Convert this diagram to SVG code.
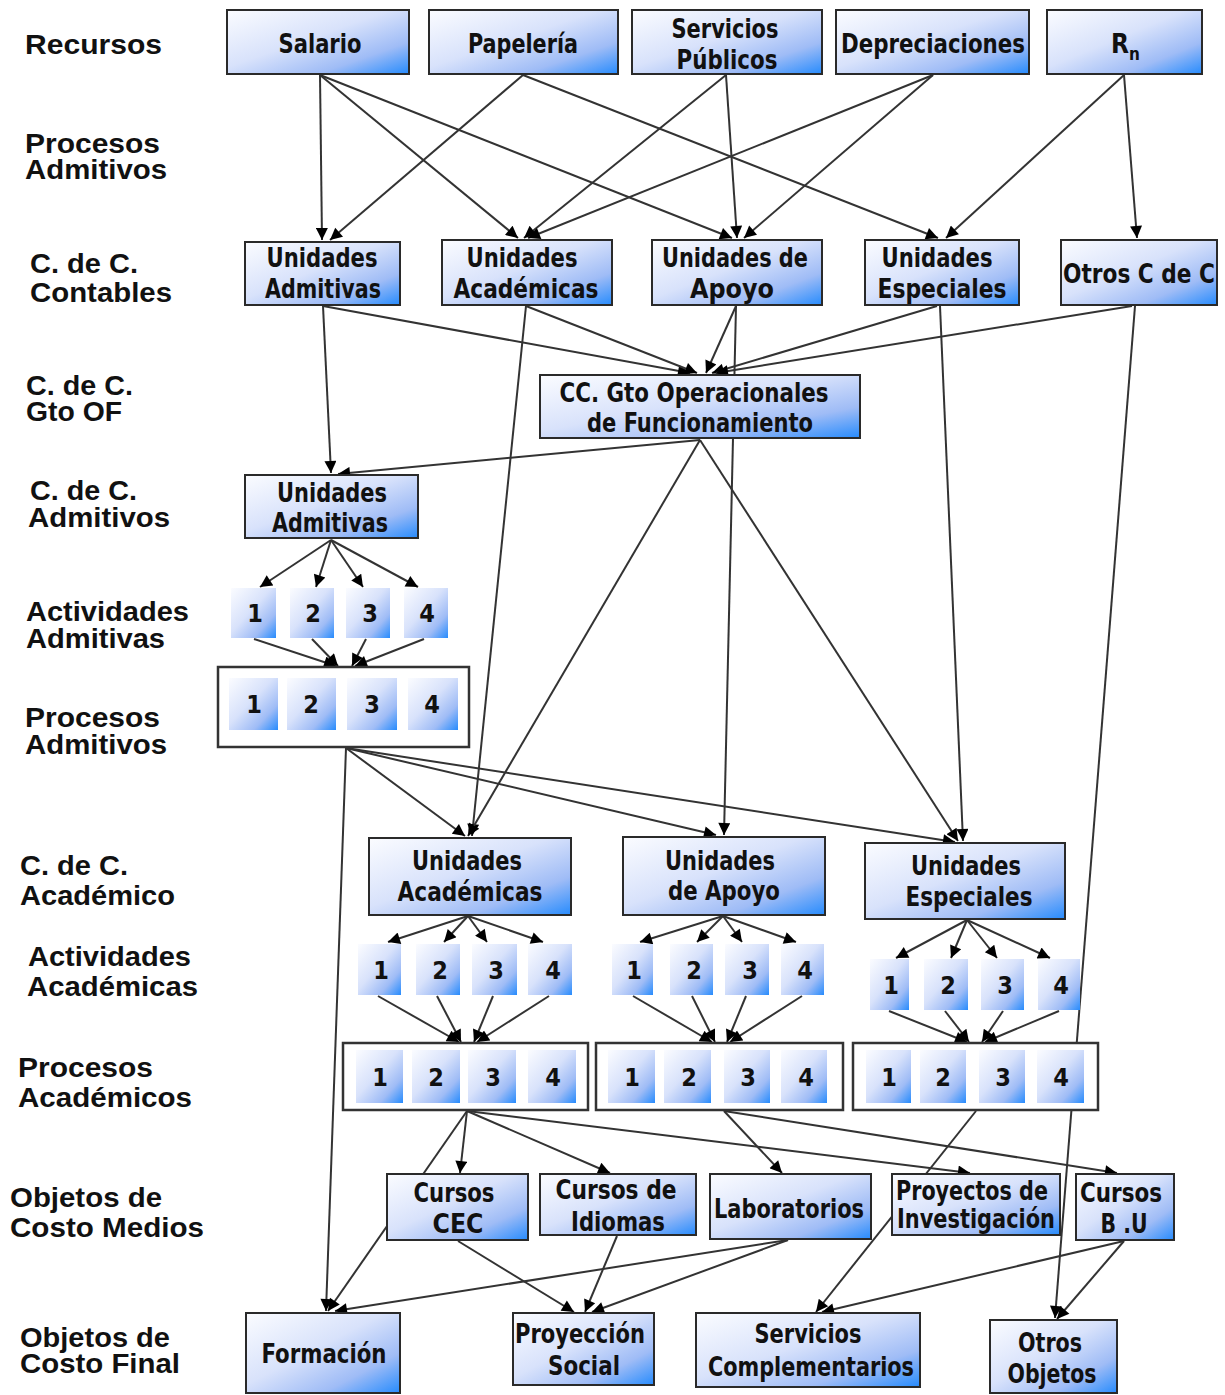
<svg xmlns="http://www.w3.org/2000/svg" width="1225" height="1395" viewBox="0 0 1225 1395">
<style>
.bg{fill:#ffffff}
.n{fill:url(#g);stroke:#2a2a2a;stroke-width:2}
.s{fill:url(#g)}
.c{fill:#ffffff;stroke:#333333;stroke-width:2.5}
.t{font-family:"Liberation Sans Narrow","DejaVu Sans Condensed","Liberation Sans",sans-serif;font-weight:bold;font-size:26px;fill:#111111;text-anchor:middle}
.num{font-family:"Liberation Sans Narrow","DejaVu Sans Condensed","Liberation Sans",sans-serif;font-weight:bold;font-size:25px;fill:#111111;text-anchor:middle}
.l{font-family:"Liberation Sans",Arial,sans-serif;font-weight:bold;font-size:28px;fill:#111111}
.e{fill:none;stroke:#333333;stroke-width:2;marker-end:url(#a)}
</style>
<defs>
<linearGradient id="g" x1="0" y1="0" x2="1" y2="1">
<stop offset="0" stop-color="#fbfcff"/>
<stop offset="0.45" stop-color="#d8e2fb"/>
<stop offset="0.75" stop-color="#9fbcf6"/>
<stop offset="1" stop-color="#268bfd"/>
</linearGradient>
<marker id="a" viewBox="0 0 10 10" refX="10" refY="5" markerWidth="15" markerHeight="12" orient="auto" markerUnits="userSpaceOnUse">
<path d="M0,0 L10,5 L0,10 z" fill="#000000"/>
</marker>
</defs>
<rect class="bg" x="0" y="0" width="1225" height="1395"/>

<g id="labels">
<text class="l" x="25" y="54" textLength="137" lengthAdjust="spacingAndGlyphs">Recursos</text>
<text class="l" x="25" y="153" textLength="135" lengthAdjust="spacingAndGlyphs">Procesos</text>
<text class="l" x="25" y="179" textLength="142" lengthAdjust="spacingAndGlyphs">Admitivos</text>
<text class="l" x="30" y="273" textLength="108" lengthAdjust="spacingAndGlyphs">C. de C.</text>
<text class="l" x="30" y="302" textLength="142" lengthAdjust="spacingAndGlyphs">Contables</text>
<text class="l" x="26" y="395" textLength="107" lengthAdjust="spacingAndGlyphs">C. de C.</text>
<text class="l" x="26" y="421" textLength="96" lengthAdjust="spacingAndGlyphs">Gto OF</text>
<text class="l" x="30" y="500" textLength="107" lengthAdjust="spacingAndGlyphs">C. de C.</text>
<text class="l" x="28" y="527" textLength="142" lengthAdjust="spacingAndGlyphs">Admitivos</text>
<text class="l" x="26" y="621" textLength="163" lengthAdjust="spacingAndGlyphs">Actividades</text>
<text class="l" x="26" y="648" textLength="139" lengthAdjust="spacingAndGlyphs">Admitivas</text>
<text class="l" x="25" y="727" textLength="135" lengthAdjust="spacingAndGlyphs">Procesos</text>
<text class="l" x="25" y="754" textLength="142" lengthAdjust="spacingAndGlyphs">Admitivos</text>
<text class="l" x="20" y="875" textLength="108" lengthAdjust="spacingAndGlyphs">C. de C.</text>
<text class="l" x="20" y="905" textLength="155" lengthAdjust="spacingAndGlyphs">Académico</text>
<text class="l" x="28" y="966" textLength="163" lengthAdjust="spacingAndGlyphs">Actividades</text>
<text class="l" x="27" y="996" textLength="171" lengthAdjust="spacingAndGlyphs">Académicas</text>
<text class="l" x="18" y="1077" textLength="135" lengthAdjust="spacingAndGlyphs">Procesos</text>
<text class="l" x="18" y="1107" textLength="174" lengthAdjust="spacingAndGlyphs">Académicos</text>
<text class="l" x="10" y="1207" textLength="152" lengthAdjust="spacingAndGlyphs">Objetos de</text>
<text class="l" x="10" y="1237" textLength="194" lengthAdjust="spacingAndGlyphs">Costo Medios</text>
<text class="l" x="20" y="1347" textLength="150" lengthAdjust="spacingAndGlyphs">Objetos de</text>
<text class="l" x="20" y="1373" textLength="160" lengthAdjust="spacingAndGlyphs">Costo Final</text>
</g>

<g id="connectors">
<path class="e" d="M320,75 L322,240"/>
<path class="e" d="M320,75 L518,238"/>
<path class="e" d="M320,75 L732,238"/>
<path class="e" d="M523,75 L330,240"/>
<path class="e" d="M523,75 L938,238"/>
<path class="e" d="M726,75 L524,238"/>
<path class="e" d="M726,75 L737,238"/>
<path class="e" d="M933,75 L528,238"/>
<path class="e" d="M933,75 L744,238"/>
<path class="e" d="M1124,75 L946,238"/>
<path class="e" d="M1124,75 L1137,238"/>

<path class="e" d="M323,306 L690,373"/>
<path class="e" d="M526,306 L697,373"/>
<path class="e" d="M736,306 L706,373"/>
<path class="e" d="M937,306 L712,373"/>
<path class="e" d="M1132,306 L716,373"/>

<path class="e" d="M323,306 L331,473"/>
<path class="e" d="M526,306 L472,836"/>
<path class="e" d="M736,306 L724,835"/>
<path class="e" d="M940,306 L963,841"/>
<path class="e" d="M1135,306 L1055,1318"/>

<path class="e" d="M700,440 L338,474"/>
<path class="e" d="M700,440 L468,836"/>
<path class="e" d="M700,440 L958,841"/>

<path class="e" d="M331,540 L260,587"/>
<path class="e" d="M331,540 L316,587"/>
<path class="e" d="M331,540 L363,587"/>
<path class="e" d="M331,540 L418,587"/>

<path class="e" d="M254,639 L336,666"/>
<path class="e" d="M312,639 L338,666"/>
<path class="e" d="M366,639 L352,666"/>
<path class="e" d="M424,639 L355,666"/>

<path class="e" d="M346,748 L326,1311"/>
<path class="e" d="M346,748 L465,836"/>
<path class="e" d="M346,748 L716,835"/>
<path class="e" d="M346,748 L955,842"/>

<path class="e" d="M468,916 L388,942"/>
<path class="e" d="M468,916 L444,942"/>
<path class="e" d="M468,916 L487,942"/>
<path class="e" d="M468,916 L543,942"/>
<path class="e" d="M723,916 L640,942"/>
<path class="e" d="M723,916 L697,942"/>
<path class="e" d="M723,916 L742,942"/>
<path class="e" d="M723,916 L796,942"/>
<path class="e" d="M967,920 L896,958"/>
<path class="e" d="M967,920 L951,958"/>
<path class="e" d="M967,920 L997,958"/>
<path class="e" d="M967,920 L1050,958"/>

<path class="e" d="M378,996 L459,1042"/>
<path class="e" d="M437,996 L461,1042"/>
<path class="e" d="M493,996 L474,1042"/>
<path class="e" d="M549,996 L477,1042"/>
<path class="e" d="M633,996 L712,1042"/>
<path class="e" d="M692,996 L715,1042"/>
<path class="e" d="M746,996 L727,1042"/>
<path class="e" d="M802,996 L730,1042"/>
<path class="e" d="M889,1011 L967,1042"/>
<path class="e" d="M945,1011 L969,1042"/>
<path class="e" d="M1003,1011 L982,1042"/>
<path class="e" d="M1059,1011 L985,1042"/>

<path class="e" d="M467,1111 L328,1311"/>
<path class="e" d="M467,1111 L460,1173"/>
<path class="e" d="M467,1111 L610,1173"/>
<path class="e" d="M467,1111 L970,1173"/>
<path class="e" d="M724,1111 L782,1173"/>
<path class="e" d="M724,1111 L1117,1173"/>
<path class="e" d="M976,1111 L816,1312"/>

<path class="e" d="M458,1241 L574,1312"/>
<path class="e" d="M617,1236 L585,1312"/>
<path class="e" d="M788,1240 L335,1311"/>
<path class="e" d="M788,1240 L592,1312"/>
<path class="e" d="M1124,1241 L822,1312"/>
<path class="e" d="M1124,1241 L1057,1319"/>
</g>

<g id="salario"><rect class="n" x="227" y="10" width="182" height="64"/><text class="t" x="320" y="53" textLength="83" lengthAdjust="spacingAndGlyphs">Salario</text></g>
<g id="papeleria"><rect class="n" x="429" y="10" width="189" height="64"/><text class="t" x="523" y="53" textLength="110" lengthAdjust="spacingAndGlyphs">Papelería</text></g>
<g id="servicios-publicos"><rect class="n" x="632" y="10" width="190" height="64"/><text class="t" x="725" y="38" textLength="107" lengthAdjust="spacingAndGlyphs">Servicios</text><text class="t" x="727" y="69" textLength="101" lengthAdjust="spacingAndGlyphs">Públicos</text></g>
<g id="depreciaciones"><rect class="n" x="836" y="10" width="193" height="64"/><text class="t" x="933" y="53" textLength="184" lengthAdjust="spacingAndGlyphs">Depreciaciones</text></g>
<g id="rn"><rect class="n" x="1047" y="10" width="155" height="64"/><text class="t" x="1111" y="53" style="text-anchor:start">R<tspan font-size="17" dy="7">n</tspan></text></g>

<g id="cc-unidades-admitivas"><rect class="n" x="245" y="242" width="155" height="63"/><text class="t" x="322" y="267" textLength="111" lengthAdjust="spacingAndGlyphs">Unidades</text><text class="t" x="323" y="298" textLength="116" lengthAdjust="spacingAndGlyphs">Admitivas</text></g>
<g id="cc-unidades-academicas"><rect class="n" x="442" y="240" width="170" height="65"/><text class="t" x="522" y="267" textLength="111" lengthAdjust="spacingAndGlyphs">Unidades</text><text class="t" x="526" y="298" textLength="145" lengthAdjust="spacingAndGlyphs">Académicas</text></g>
<g id="cc-unidades-apoyo"><rect class="n" x="652" y="240" width="170" height="65"/><text class="t" x="735" y="267" textLength="146" lengthAdjust="spacingAndGlyphs">Unidades de</text><text class="t" x="732" y="298" textLength="84" lengthAdjust="spacingAndGlyphs">Apoyo</text></g>
<g id="cc-unidades-especiales"><rect class="n" x="865" y="240" width="154" height="65"/><text class="t" x="937" y="267" textLength="111" lengthAdjust="spacingAndGlyphs">Unidades</text><text class="t" x="942" y="298" textLength="129" lengthAdjust="spacingAndGlyphs">Especiales</text></g>
<g id="otros-cc"><rect class="n" x="1061" y="240" width="156" height="65"/><text class="t" x="1063" y="283" style="text-anchor:start" textLength="152" lengthAdjust="spacingAndGlyphs">Otros C de C</text></g>

<g id="cc-gto"><rect class="n" x="540" y="375" width="320" height="63"/><text class="t" x="694" y="402" textLength="269" lengthAdjust="spacingAndGlyphs">CC. Gto Operacionales</text><text class="t" x="700" y="432" textLength="226" lengthAdjust="spacingAndGlyphs">de Funcionamiento</text></g>

<g id="adm-unidades-admitivas"><rect class="n" x="245" y="475" width="173" height="63"/><text class="t" x="332" y="502" textLength="110" lengthAdjust="spacingAndGlyphs">Unidades</text><text class="t" x="330" y="532" textLength="116" lengthAdjust="spacingAndGlyphs">Admitivas</text></g>

<g id="act-adm">
<rect class="s" x="231" y="588" width="45" height="50"/><text class="num" x="255" y="622">1</text>
<rect class="s" x="290" y="588" width="44" height="50"/><text class="num" x="313" y="622">2</text>
<rect class="s" x="346" y="588" width="44" height="50"/><text class="num" x="370" y="622">3</text>
<rect class="s" x="404" y="588" width="44" height="50"/><text class="num" x="427" y="622">4</text>
</g>
<g id="proc-adm">
<rect class="c" x="218" y="667" width="251" height="80"/>
<rect class="s" x="229" y="678" width="49" height="52"/><text class="num" x="254" y="713">1</text>
<rect class="s" x="287" y="678" width="49" height="52"/><text class="num" x="311" y="713">2</text>
<rect class="s" x="347" y="678" width="50" height="52"/><text class="num" x="372" y="713">3</text>
<rect class="s" x="408" y="678" width="50" height="52"/><text class="num" x="432" y="713">4</text>
</g>

<g id="acad-unidades-academicas"><rect class="n" x="369" y="838" width="202" height="77"/><text class="t" x="467" y="870" textLength="110" lengthAdjust="spacingAndGlyphs">Unidades</text><text class="t" x="470" y="901" textLength="145" lengthAdjust="spacingAndGlyphs">Académicas</text></g>
<g id="acad-unidades-apoyo"><rect class="n" x="623" y="837" width="202" height="78"/><text class="t" x="720" y="870" textLength="110" lengthAdjust="spacingAndGlyphs">Unidades</text><text class="t" x="724" y="900" textLength="112" lengthAdjust="spacingAndGlyphs">de Apoyo</text></g>
<g id="acad-unidades-especiales"><rect class="n" x="865" y="843" width="200" height="76"/><text class="t" x="966" y="875" textLength="110" lengthAdjust="spacingAndGlyphs">Unidades</text><text class="t" x="969" y="906" textLength="127" lengthAdjust="spacingAndGlyphs">Especiales</text></g>

<g id="act-acad">
<rect class="s" x="358" y="944" width="43" height="51"/><text class="num" x="381" y="979">1</text>
<rect class="s" x="416" y="944" width="44" height="51"/><text class="num" x="440" y="979">2</text>
<rect class="s" x="472" y="944" width="45" height="51"/><text class="num" x="496" y="979">3</text>
<rect class="s" x="528" y="944" width="44" height="51"/><text class="num" x="553" y="979">4</text>
</g>
<g id="act-apoyo">
<rect class="s" x="612" y="944" width="41" height="51"/><text class="num" x="634" y="979">1</text>
<rect class="s" x="670" y="944" width="43" height="51"/><text class="num" x="694" y="979">2</text>
<rect class="s" x="725" y="944" width="44" height="51"/><text class="num" x="750" y="979">3</text>
<rect class="s" x="781" y="944" width="43" height="51"/><text class="num" x="805" y="979">4</text>
</g>
<g id="act-esp">
<rect class="s" x="870" y="959" width="39" height="51"/><text class="num" x="891" y="994">1</text>
<rect class="s" x="924" y="959" width="44" height="51"/><text class="num" x="948" y="994">2</text>
<rect class="s" x="981" y="959" width="43" height="51"/><text class="num" x="1005" y="994">3</text>
<rect class="s" x="1038" y="959" width="42" height="51"/><text class="num" x="1061" y="994">4</text>
</g>

<g id="proc-acad">
<rect class="c" x="343" y="1043" width="245" height="67"/>
<rect class="s" x="356" y="1050" width="47" height="53"/><text class="num" x="380" y="1086">1</text>
<rect class="s" x="412" y="1050" width="48" height="53"/><text class="num" x="436" y="1086">2</text>
<rect class="s" x="468" y="1050" width="48" height="53"/><text class="num" x="493" y="1086">3</text>
<rect class="s" x="528" y="1050" width="48" height="53"/><text class="num" x="553" y="1086">4</text>
</g>
<g id="proc-apoyo">
<rect class="c" x="596" y="1043" width="247" height="67"/>
<rect class="s" x="608" y="1050" width="47" height="53"/><text class="num" x="632" y="1086">1</text>
<rect class="s" x="664" y="1050" width="47" height="53"/><text class="num" x="689" y="1086">2</text>
<rect class="s" x="724" y="1050" width="46" height="53"/><text class="num" x="748" y="1086">3</text>
<rect class="s" x="781" y="1050" width="46" height="53"/><text class="num" x="806" y="1086">4</text>
</g>
<g id="proc-esp">
<rect class="c" x="853" y="1043" width="245" height="67"/>
<rect class="s" x="866" y="1050" width="45" height="53"/><text class="num" x="889" y="1086">1</text>
<rect class="s" x="920" y="1050" width="46" height="53"/><text class="num" x="943" y="1086">2</text>
<rect class="s" x="979" y="1050" width="46" height="53"/><text class="num" x="1003" y="1086">3</text>
<rect class="s" x="1037" y="1050" width="47" height="53"/><text class="num" x="1061" y="1086">4</text>
</g>

<g id="cursos-cec"><rect class="n" x="387" y="1174" width="141" height="66"/><text class="t" x="454" y="1202" textLength="81" lengthAdjust="spacingAndGlyphs">Cursos</text><text class="t" x="458" y="1233" textLength="51" lengthAdjust="spacingAndGlyphs">CEC</text></g>
<g id="cursos-idiomas"><rect class="n" x="540" y="1174" width="156" height="61"/><text class="t" x="616" y="1199" textLength="121" lengthAdjust="spacingAndGlyphs">Cursos de</text><text class="t" x="618" y="1231" textLength="94" lengthAdjust="spacingAndGlyphs">Idiomas</text></g>
<g id="laboratorios"><rect class="n" x="710" y="1174" width="161" height="65"/><text class="t" x="789" y="1218" textLength="150" lengthAdjust="spacingAndGlyphs">Laboratorios</text></g>
<g id="proyectos"><rect class="n" x="892" y="1174" width="168" height="61"/><text class="t" x="972" y="1200" textLength="152" lengthAdjust="spacingAndGlyphs">Proyectos de</text><text class="t" x="976" y="1228" textLength="158" lengthAdjust="spacingAndGlyphs">Investigación</text></g>
<g id="cursos-bu"><rect class="n" x="1076" y="1174" width="98" height="66"/><text class="t" x="1121" y="1202" textLength="82" lengthAdjust="spacingAndGlyphs">Cursos</text><text class="t" x="1124" y="1233" textLength="47" lengthAdjust="spacingAndGlyphs">B .U</text></g>

<g id="formacion"><rect class="n" x="246" y="1313" width="154" height="80"/><text class="t" x="324" y="1363" textLength="125" lengthAdjust="spacingAndGlyphs">Formación</text></g>
<g id="proyeccion-social"><rect class="n" x="513" y="1313" width="141" height="72"/><text class="t" x="580" y="1343" textLength="130" lengthAdjust="spacingAndGlyphs">Proyección</text><text class="t" x="584" y="1375" textLength="72" lengthAdjust="spacingAndGlyphs">Social</text></g>
<g id="servicios-complementarios"><rect class="n" x="696" y="1313" width="224" height="74"/><text class="t" x="808" y="1343" textLength="107" lengthAdjust="spacingAndGlyphs">Servicios</text><text class="t" x="811" y="1376" textLength="206" lengthAdjust="spacingAndGlyphs">Complementarios</text></g>
<g id="otros-objetos"><rect class="n" x="990" y="1320" width="127" height="73"/><text class="t" x="1050" y="1352" textLength="64" lengthAdjust="spacingAndGlyphs">Otros</text><text class="t" x="1052" y="1383" textLength="89" lengthAdjust="spacingAndGlyphs">Objetos</text></g>
</svg>
